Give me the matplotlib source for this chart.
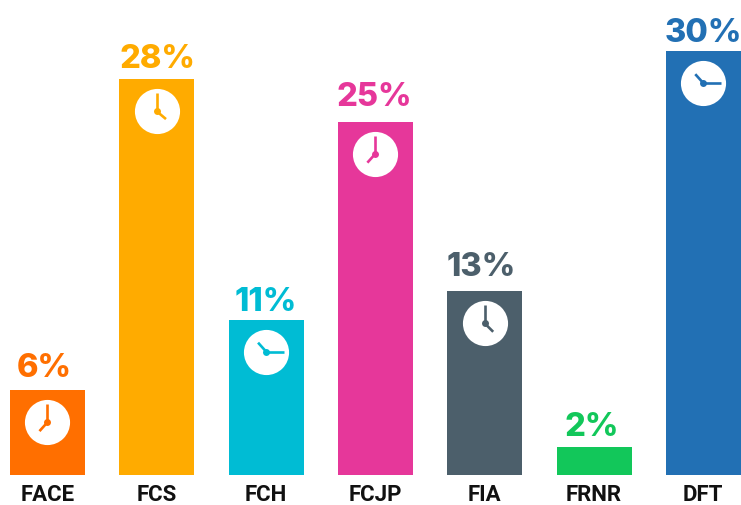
import numpy as np
import matplotlib
matplotlib.use("Agg")
import matplotlib.pyplot as plt

categories = ["FACE", "FCS", "FCH", "FCJP", "FIA", "FRNR", "DFT"]
values = [6, 28, 11, 25, 13, 2, 30]
labels = ["6%", "28%", "11%", "25%", "13%", "2%", "30%"]
colors = ["#FF6F00", "#FFAB00", "#00BCD4", "#E6379A", "#4C5F6B", "#12C75A", "#2270B4"]
# clock hands in degrees from 12 o'clock, None when the bar has no clock
hour_hands = [222, 130, 318, 222, 135, None, 318]
minute_hands = [0, 0, 90, 0, 0, None, 90]
# label nudges in pixels, the labels are not quite centred in the original
label_dx = [-3.5, 1, 0, -1.5, -3.5, -2.5, 0]
label_gap = [14, 12, 10, 17, 16, 12, 10]

BAR_W = 75 / 109.3
PX_PER_PCT = 14.13


def clock(ax, x, top, color, hour, minute):
    cy = top - 32 / PX_PER_PCT
    ax.plot([x], [cy], "o", color="white", ms=32.5, mew=0, zorder=3)
    for ang, length in ((hour, 12), (minute, 18)):
        a = np.radians(ang)
        hand_x = x + length * np.sin(a) / 109.3
        hand_y = cy + length * np.cos(a) / PX_PER_PCT
        ax.plot([x, hand_x], [cy, hand_y], color=color, lw=1.9,
                solid_capstyle="butt", zorder=4)
    ax.plot([x], [cy], "o", color=color, ms=5, mew=0, zorder=5)


def main():
    fig = plt.figure(figsize=(7.41, 5.06), dpi=100)
    ax = fig.add_axes([0, 30 / 506, 1, 476 / 506])
    xs = np.arange(len(categories))
    ax.bar(xs, values, width=BAR_W, color=colors)
    ax.set_xlim(-47.5 / 109.3, (741 - 47.5) / 109.3)
    ax.set_ylim(0, 476 / PX_PER_PCT)

    for i, v in enumerate(values):
        ax.annotate(labels[i], (i, v), xytext=(label_dx[i] * 0.72, label_gap[i] * 0.72),
                    textcoords="offset points", ha="center", va="baseline", color=colors[i],
                    fontsize=23.5, fontweight=800, family="Inter")
        if hour_hands[i] is not None:
            clock(ax, i, v, colors[i], hour_hands[i], minute_hands[i])

    ax.set_xticks(xs, categories, fontsize=16, fontweight="bold",
                  family="Roboto", color="#111111")
    ax.tick_params(axis="x", length=0, pad=5.5)
    ax.set_yticks([])
    for s in ax.spines.values():
        s.set_visible(False)

    fig.savefig("out.png", dpi=100)


if __name__ == "__main__":
    main()
